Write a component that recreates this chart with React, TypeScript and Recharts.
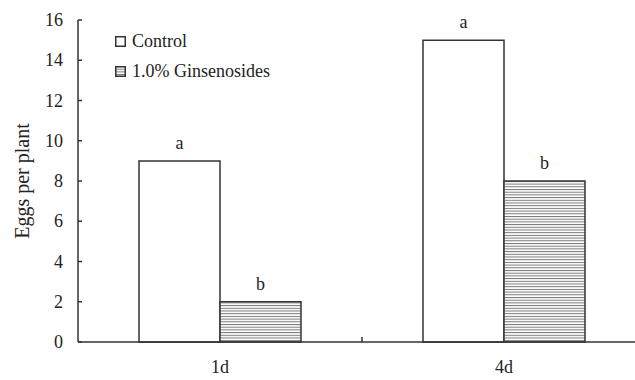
import React from "react";
import { BarChart, Bar, XAxis, YAxis, LabelList } from "recharts";

const categories = ["1d", "4d"];
const controlValues = [9, 15];
const ginsenosideValues = [2, 8];
const controlLetters = ["a", "a"];
const ginsenosideLetters = ["b", "b"];
const yTicks = [0, 2, 4, 6, 8, 10, 12, 14, 16];
const seriesNames = ["Control", "1.0% Ginsenosides"];

const data = categories.map((c, i) => ({
  name: c,
  control: controlValues[i],
  gins: ginsenosideValues[i],
  cl: controlLetters[i],
  gl: ginsenosideLetters[i],
}));

const FONT = "'Liberation Serif', 'Times New Roman', serif";
const CHART_W = 660;
const CHART_H = 380;
const MARGIN = { top: 20, right: 14, bottom: 0, left: 0 };
const Y_W = 78;
const X_H = 38;
const PLOT_W = CHART_W - MARGIN.left - MARGIN.right - Y_W;
const STROKE = "#333";

const Y_TICK_SIZE = 4;
const Y_TICK_MARGIN = 11;

const YTick = (props: any) => {
  const { x, y, payload } = props;
  const ax = x + Y_TICK_SIZE + Y_TICK_MARGIN;
  return (
    <g>
      <line x1={ax} x2={ax + 4} y1={y} y2={y} stroke={STROKE} strokeWidth={1.5} />
      <text x={x} y={y} textAnchor="end" dominantBaseline="central" style={{ fontFamily: FONT, fontSize: 18 }} fill="#222">
        {payload.value}
      </text>
    </g>
  );
};

const X_TICK_SIZE = 0;
const X_TICK_MARGIN = 17;

const XTick = (props: any) => {
  const { x, y, payload, index } = props;
  const bandHalf = PLOT_W / categories.length / 2;
  const axisY = y - X_TICK_SIZE - X_TICK_MARGIN;
  return (
    <g>
      {index < categories.length - 1 && (
        <line x1={x + bandHalf} x2={x + bandHalf} y1={axisY} y2={axisY - 5} stroke={STROKE} strokeWidth={1.5} />
      )}
      <text x={x} y={y} textAnchor="middle" dy="0.75em" style={{ fontFamily: FONT, fontSize: 18 }} fill="#222">
        {payload.value}
      </text>
    </g>
  );
};

const LegendBox = () => (
  <div
    style={{
      position: "absolute",
      left: 115,
      top: 26,
      fontFamily: FONT,
      fontSize: 18,
      color: "#222",
      lineHeight: "30px",
    }}
  >
    {seriesNames.map((n, i) => (
      <div key={n} style={{ display: "flex", alignItems: "center" }}>
        <svg width={11} height={11} style={{ marginRight: 6 }}>
          <rect x={0.75} y={0.75} width={9.5} height={9.5} fill={i === 0 ? "#fff" : "url(#hstripes)"} stroke={STROKE} strokeWidth={1.5} />
        </svg>
        <span>{n}</span>
      </div>
    ))}
  </div>
);

export default function App() {
  return (
    <div style={{ position: "absolute", left: 0, top: 0, width: 635, height: 380, overflow: "hidden", background: "#fff" }}>
      <svg width={0} height={0} style={{ position: "absolute" }}>
        <defs>
          <pattern id="hstripes" patternUnits="userSpaceOnUse" width={4} height={2.7}>
            <rect x={0} y={0} width={4} height={2.7} fill="#fff" />
            <rect x={0} y={0} width={4} height={1} fill="#777" />
          </pattern>
        </defs>
      </svg>
      <BarChart width={CHART_W} height={CHART_H} data={data} margin={MARGIN} barGap={0} barSize={81}>
        <XAxis
          dataKey="name"
          height={X_H}
          tickLine={false}
          tickSize={X_TICK_SIZE}
          tickMargin={X_TICK_MARGIN}
          axisLine={{ stroke: STROKE, strokeWidth: 1.5 }}
          tick={<XTick />}
          interval={0}
        />
        <YAxis
          width={Y_W}
          domain={[0, 16]}
          ticks={yTicks}
          interval={0}
          tickLine={false}
          tickSize={Y_TICK_SIZE}
          tickMargin={Y_TICK_MARGIN}
          axisLine={{ stroke: STROKE, strokeWidth: 1.5 }}
          tick={<YTick />}
          label={{
            value: "Eggs per plant",
            angle: -90,
            position: "insideLeft",
            offset: 22,
            style: { fontFamily: FONT, fontSize: 20, fill: "#222", textAnchor: "middle" },
          }}
        />
        <Bar dataKey="control" name={seriesNames[0]} fill="#fff" stroke={STROKE} strokeWidth={1.5} isAnimationActive={false}>
          <LabelList dataKey="cl" position="top" offset={12} style={{ fontFamily: FONT, fontSize: 18, fill: "#222" }} />
        </Bar>
        <Bar dataKey="gins" name={seriesNames[1]} fill="url(#hstripes)" stroke={STROKE} strokeWidth={1.5} isAnimationActive={false}>
          <LabelList dataKey="gl" position="top" offset={12} style={{ fontFamily: FONT, fontSize: 18, fill: "#222" }} />
        </Bar>
      </BarChart>
      <LegendBox />
    </div>
  );
}
